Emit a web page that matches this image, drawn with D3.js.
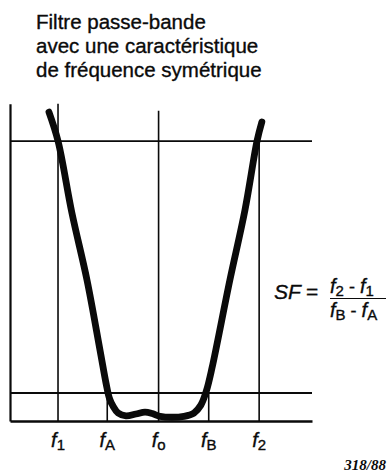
<!DOCTYPE html>
<html>
<head>
<meta charset="utf-8">
<script src="https://cdn.jsdelivr.net/npm/d3@7"></script>
<style>
  html, body { margin: 0; padding: 0; background: #fff; }
  svg { display: block; }
  .ink-text { stroke: #0a0a0a; stroke-width: 0.35px; paint-order: stroke; }
</style>
</head>
<body>
<script>
// Title, one entry per line
const titleLines = ["Filtre passe-bande", "avec une caractéristique", "de fréquence symétrique"];

// Frequency markers on the horizontal axis (relative frequency units)
const markerSubs  = ["1", "A", "o", "B", "2"];
const markerFreqs = [15.9, 32.2, 49.2, 65.8, 82.5];
// Attenuation level where each marker line stops (relative dB)
const markerTops  = [68, 6, 66.5, 6, 60];

// Reference attenuation levels: pass-band limit and stop-band limit
const passLevel = 6;
const stopLevel = 60;

// Attenuation response of the band-pass filter
const curveFreq = [12.9, 15.9, 20.5, 25.5, 29.8, 31.8, 32.9, 34.1, 35.8, 38.4, 41.7, 44.7, 47.1, 49.7, 53.6, 57.6, 60.9, 63.2, 65.0, 66.9, 72.8, 77.8, 81.8, 83.4];
const curveAtt  = [66.2, 60.0, 44.6, 30.2, 15.2, 8.1, 4.9, 3.2, 1.7, 1.1, 1.5, 1.9, 1.6, 1.0, 0.8, 1.0, 1.7, 3.4, 6.4, 11.4, 30.2, 45.2, 60.0, 64.1];

const W = 390, H = 474;
const svg = d3.select("body").append("svg")
  .attr("width", W).attr("height", H)
  .attr("viewBox", `0 0 ${W} ${H}`);

const x = d3.scaleLinear().domain([0, 100]).range([10, 312]);
const y = d3.scaleLinear().domain([0, 68]).range([421, 103.7]);

const ink = "#0a0a0a";
const sans = "'Liberation Sans', Arial, Helvetica, sans-serif";

// Title
svg.append("g")
  .selectAll("text")
  .data(titleLines)
  .join("text")
  .attr("class", "ink-text")
  .attr("x", 36)
  .attr("y", (d, i) => 29 + i * 24.2)
  .attr("font-family", sans)
  .attr("font-size", 20.5)
  .attr("fill", ink)
  .text(d => d);

const grid = svg.append("g").attr("stroke", ink).attr("fill", "none");

// Horizontal reference lines (stop-band and pass-band limits)
[stopLevel, passLevel].forEach(level => {
  grid.append("line")
    .attr("x1", x(0)).attr("x2", x(100))
    .attr("y1", y(level)).attr("y2", y(level))
    .attr("stroke-width", 1.8);
});

// Vertical marker lines
grid.selectAll("line.marker")
  .data(markerFreqs)
  .join("line")
  .attr("class", "marker")
  .attr("x1", d => x(d)).attr("x2", d => x(d))
  .attr("y1", (d, i) => y(markerTops[i]))
  .attr("y2", y(0) + 1)
  .attr("stroke-width", 1.6);

// Axes: frequency axis along the bottom and attenuation axis on the left
const xAxis = d3.axisBottom(x).tickValues([]).tickSizeOuter(0);
svg.append("g")
  .attr("transform", `translate(0,${y(0)})`)
  .call(xAxis)
  .call(g => g.select(".domain").attr("stroke", ink).attr("stroke-width", 2.4));

const yAxis = d3.axisLeft(y).tickValues([]).tickSizeOuter(0);
svg.append("g")
  .attr("transform", `translate(${x(0)},0)`)
  .call(yAxis)
  .call(g => g.select(".domain").attr("stroke", ink).attr("stroke-width", 2.2));

// Response curve
const pts = curveFreq.map((f, i) => [f, curveAtt[i]]);
const line = d3.line()
  .x(d => x(d[0]))
  .y(d => y(d[1]))
  .curve(d3.curveCatmullRom.alpha(0.5));
svg.append("path")
  .datum(pts)
  .attr("d", line)
  .attr("fill", "none")
  .attr("stroke", ink)
  .attr("stroke-width", 6.8)
  .attr("stroke-linecap", "round")
  .attr("stroke-linejoin", "round");

// Frequency labels
const labels = svg.append("g")
  .selectAll("text")
  .data(markerFreqs)
  .join("text")
  .attr("class", "ink-text")
  .attr("x", d => x(d))
  .attr("y", 447)
  .attr("text-anchor", "middle")
  .attr("font-family", sans)
  .attr("fill", ink);
labels.append("tspan")
  .attr("font-style", "italic")
  .attr("font-size", 20)
  .text("f");
labels.append("tspan")
  .attr("font-size", 15)
  .attr("dy", 3)
  .text((d, i) => markerSubs[i]);

// Shape factor formula
const formula = svg.append("g").attr("font-family", sans).attr("fill", ink);
formula.append("text")
  .attr("class", "ink-text")
  .attr("x", 274).attr("y", 299)
  .attr("font-size", 21).attr("font-style", "italic")
  .text("SF");
formula.append("text")
  .attr("class", "ink-text")
  .attr("x", 306).attr("y", 299)
  .attr("font-size", 21)
  .text("=");

function fracTerm(yBase, a, b) {
  const t = formula.append("text").attr("class", "ink-text").attr("x", 330).attr("y", yBase);
  t.append("tspan").attr("font-style", "italic").attr("font-size", 20).text("f");
  t.append("tspan").attr("font-size", 15).attr("dy", 3).text(a);
  t.append("tspan").attr("font-size", 18).attr("dy", -3).text(" - ");
  t.append("tspan").attr("font-style", "italic").attr("font-size", 20).text("f");
  t.append("tspan").attr("font-size", 15).attr("dy", 3).text(b);
}
fracTerm(293, "2", "1");
fracTerm(317, "B", "A");
formula.append("line")
  .attr("x1", 330).attr("x2", 386)
  .attr("y1", 298.5).attr("y2", 298.5)
  .attr("stroke", ink).attr("stroke-width", 1);

// Figure number
svg.append("text")
  .attr("x", 386).attr("y", 470)
  .attr("text-anchor", "end")
  .attr("font-family", "'Liberation Serif', 'Times New Roman', serif")
  .attr("font-weight", "bold")
  .attr("font-style", "italic")
  .attr("font-size", 15)
  .attr("fill", ink)
  .text("318/88");
</script>
</body>
</html>
